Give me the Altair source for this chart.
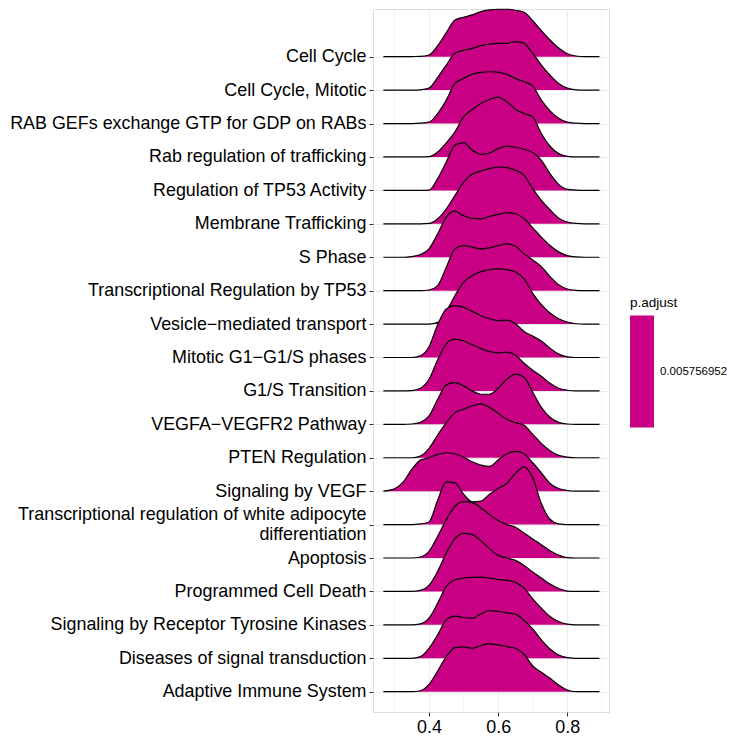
import json
import altair as alt
import pandas as pd

# Evaluation grid shared by every ridge (x = GeneRatio-like score)
X_GRID = [0.268, 0.300, 0.325, 0.350, 0.375, 0.400, 0.425, 0.450, 0.475, 0.500,
          0.525, 0.550, 0.575, 0.600, 0.625, 0.650, 0.675, 0.700, 0.725, 0.750,
          0.775, 0.800, 0.825, 0.850, 0.875, 0.893]

# Ridge heights (in units of the row spacing) at each X_GRID point
CELL_CYCLE = [0, 0, 0, 0.005, 0.01, 0.05, 0.33, 0.72, 1.10, 1.18, 1.25, 1.35, 1.40,
              1.42, 1.42, 1.39, 1.33, 1.08, 0.78, 0.50, 0.26, 0.09, 0.02, 0, 0, 0]
CELL_CYCLE_MITOTIC = [0, 0, 0, 0, 0.01, 0.06, 0.38, 0.75, 1.10, 1.19, 1.25, 1.33, 1.38,
                      1.40, 1.40, 1.45, 1.40, 1.10, 0.75, 0.45, 0.20, 0.06, 0.01, 0, 0, 0]
RAB_GEFS = [0, 0, 0, 0, 0.01, 0.04, 0.30, 0.70, 1.20, 1.35, 1.48, 1.53, 1.55,
            1.54, 1.47, 1.35, 1.25, 1.12, 0.70, 0.38, 0.16, 0.04, 0.01, 0, 0, 0]
RAB_REGULATION = [0, 0, 0, 0, 0, 0.01, 0.15, 0.42, 0.75, 1.20, 1.42, 1.60, 1.72,
                  1.79, 1.65, 1.43, 1.30, 1.20, 0.70, 0.32, 0.10, 0.02, 0, 0, 0, 0]
TP53_ACTIVITY = [0, 0, 0, 0, 0, 0.01, 0.35, 0.85, 1.35, 1.43, 1.20, 1.08, 1.12,
                 1.25, 1.32, 1.29, 1.23, 1.13, 0.90, 0.50, 0.18, 0.03, 0.01, 0, 0, 0]
MEMBRANE_TRAFFICKING = [0, 0, 0, 0, 0, 0.01, 0.15, 0.45, 0.85, 1.25, 1.48, 1.58, 1.65,
                        1.70, 1.68, 1.60, 1.45, 1.05, 0.70, 0.42, 0.17, 0.05, 0.01, 0, 0, 0]
S_PHASE = [0, 0, 0, 0.02, 0.08, 0.25, 0.70, 1.20, 1.38, 1.24, 1.16, 1.15, 1.22,
           1.28, 1.33, 1.30, 1.15, 0.88, 0.60, 0.35, 0.16, 0.05, 0.01, 0, 0, 0]
TP53_TRANSCRIPTION = [0, 0, 0, 0, 0, 0.02, 0.15, 0.70, 1.25, 1.35, 1.30, 1.25, 1.28,
                      1.35, 1.40, 1.33, 1.10, 0.92, 0.72, 0.42, 0.18, 0.05, 0.01, 0, 0, 0]
VESICLE_TRANSPORT = [0, 0, 0, 0, 0, 0, 0.05, 0.38, 0.85, 1.25, 1.45, 1.57, 1.63,
                     1.65, 1.63, 1.56, 1.35, 0.92, 0.58, 0.33, 0.16, 0.06, 0.01, 0, 0, 0]
MITOTIC_G1 = [0, 0, 0, 0, 0.05, 0.32, 0.98, 1.45, 1.55, 1.50, 1.38, 1.25, 1.16,
              1.10, 1.12, 1.01, 0.78, 0.64, 0.49, 0.28, 0.10, 0.02, 0, 0, 0, 0]
G1S_TRANSITION = [0, 0, 0, 0.01, 0.08, 0.35, 0.93, 1.41, 1.55, 1.50, 1.38, 1.27, 1.18,
                  1.14, 1.16, 1.07, 0.83, 0.62, 0.44, 0.23, 0.08, 0.02, 0, 0, 0, 0]
VEGFA_VEGFR2 = [0, 0, 0, 0.01, 0.06, 0.25, 0.75, 1.18, 1.25, 1.15, 1.00, 0.90, 0.90,
                1.08, 1.35, 1.50, 1.41, 0.96, 0.51, 0.21, 0.06, 0.01, 0, 0, 0, 0]
PTEN_REGULATION = [0, 0, 0, 0, 0.05, 0.28, 0.68, 1.05, 1.35, 1.45, 1.55, 1.61, 1.50,
                   1.33, 1.15, 1.05, 0.97, 0.70, 0.43, 0.21, 0.07, 0.02, 0, 0, 0, 0]
SIGNALING_VEGF = [0, 0.07, 0.27, 0.65, 0.93, 1.00, 1.10, 1.15, 1.12, 1.02, 0.88, 0.78, 0.74,
                  0.93, 1.12, 1.19, 1.12, 0.85, 0.55, 0.23, 0.08, 0.02, 0, 0, 0, 0]
WHITE_ADIPOCYTE = [0, 0, 0, 0, 0.02, 0.08, 0.73, 1.28, 1.25, 0.91, 0.68, 0.70, 0.91,
                   1.08, 1.23, 1.53, 1.73, 1.40, 0.63, 0.16, 0.02, 0, 0, 0, 0, 0]
APOPTOSIS = [0, 0, 0, 0, 0.03, 0.20, 0.65, 1.15, 1.55, 1.69, 1.66, 1.50, 1.30,
             1.12, 1.00, 0.92, 0.75, 0.57, 0.40, 0.22, 0.09, 0.01, 0, 0, 0, 0]
PROGRAMMED_CELL_DEATH = [0, 0, 0, 0, 0.03, 0.18, 0.60, 1.15, 1.58, 1.74, 1.70, 1.52, 1.28,
                         1.08, 1.00, 0.93, 0.78, 0.58, 0.40, 0.22, 0.09, 0.01, 0, 0, 0, 0]
RTK_SIGNALING = [0, 0, 0, 0, 0.03, 0.20, 0.65, 1.15, 1.35, 1.40, 1.42, 1.43, 1.40,
                 1.36, 1.33, 1.27, 1.10, 0.78, 0.50, 0.25, 0.10, 0.02, 0, 0, 0, 0]
SIGNAL_TRANSDUCTION_DISEASES = [0, 0, 0, 0, 0.05, 0.30, 0.70, 1.15, 1.26, 1.22, 1.20, 1.33, 1.43,
                                1.40, 1.36, 1.32, 1.13, 0.88, 0.55, 0.28, 0.10, 0.02, 0, 0, 0, 0]
ADAPTIVE_IMMUNE = [0, 0, 0, 0, 0.03, 0.22, 0.62, 1.05, 1.32, 1.34, 1.30, 1.38, 1.43,
                   1.40, 1.35, 1.30, 1.12, 0.77, 0.58, 0.40, 0.20, 0.05, 0, 0, 0, 0]

# Pathways from top row to bottom row; "\n" breaks a long label onto two lines
PATHWAYS = [
    ("Cell Cycle", CELL_CYCLE),
    ("Cell Cycle, Mitotic", CELL_CYCLE_MITOTIC),
    ("RAB GEFs exchange GTP for GDP on RABs", RAB_GEFS),
    ("Rab regulation of trafficking", RAB_REGULATION),
    ("Regulation of TP53 Activity", TP53_ACTIVITY),
    ("Membrane Trafficking", MEMBRANE_TRAFFICKING),
    ("S Phase", S_PHASE),
    ("Transcriptional Regulation by TP53", TP53_TRANSCRIPTION),
    ("Vesicle\u2212mediated transport", VESICLE_TRANSPORT),
    ("Mitotic G1\u2212G1/S phases", MITOTIC_G1),
    ("G1/S Transition", G1S_TRANSITION),
    ("VEGFA\u2212VEGFR2 Pathway", VEGFA_VEGFR2),
    ("PTEN Regulation", PTEN_REGULATION),
    ("Signaling by VEGF", SIGNALING_VEGF),
    ("Transcriptional regulation of white adipocyte\ndifferentiation", WHITE_ADIPOCYTE),
    ("Apoptosis", APOPTOSIS),
    ("Programmed Cell Death", PROGRAMMED_CELL_DEATH),
    ("Signaling by Receptor Tyrosine Kinases", RTK_SIGNALING),
    ("Diseases of signal transduction", SIGNAL_TRANSDUCTION_DISEASES),
    ("Adaptive Immune System", ADAPTIVE_IMMUNE),
]

P_ADJUST = 0.005756952
MINOR_X = [0.3, 0.5, 0.7, 0.9]
MAJOR_X = [0.4, 0.6, 0.8]

FILL = "#C90084"
GRID = "#EBEBEB"
FONT = "Liberation Sans"
LABEL_SIZE = 17.9
LINE_HEIGHT = 20

n_rows = len(PATHWAYS)
row_names = [name for name, _ in PATHWAYS][::-1]  # row index 0 = bottom row
label_expr = "split(" + json.dumps(row_names) + "[round(datum.value)], '\\n')"
# Two-line labels are shifted up by half a line so the block centres on its tick
two_line_rows = [i for i, name in enumerate(row_names) if "\n" in name]
two_line_test = " || ".join(f"round(datum.value) == {i}" for i in two_line_rows) or "false"

x_scale = alt.Scale(domain=[0.238, 0.9206], nice=False, zero=False)
y_scale = alt.Scale(domain=[-0.607, n_rows - 1 + 1.427], nice=False, zero=False)

x_axis = alt.Axis(values=MAJOR_X, format=".1f", title=None, domain=False,
                  tickSize=4, tickColor="#333333", labelPadding=2,
                  labelFontSize=LABEL_SIZE, labelColor="black", labelFont=FONT,
                  grid=True, gridColor=GRID, gridWidth=1.0)
y_axis = alt.Axis(values=list(range(n_rows)), labelExpr=label_expr, title=None,
                  domain=False, tickSize=4, tickColor="#333333", labelPadding=3,
                  labelFontSize=LABEL_SIZE, labelColor="black", labelFont=FONT,
                  labelLineHeight=LINE_HEIGHT, labelLimit=500,
                  labelOffset={"condition": {"test": two_line_test,
                                             "value": -LINE_HEIGHT / 2},
                               "value": 0},
                  grid=True, gridColor=GRID, gridWidth=1.0,
                  labelBound=False, labelOverlap=False)

color_scale = alt.Scale(domain=[P_ADJUST - 0.00005, P_ADJUST + 0.00005],
                        range=[FILL, FILL])
color_legend = alt.Legend(title="p.adjust", orient="none", legendX=257, legendY=287,
                          direction="vertical", gradientLength=112,
                          gradientThickness=24, gradientStrokeWidth=0,
                          values=[P_ADJUST], format=".9f", padding=0,
                          titleFont=FONT, titleFontSize=13.5, titleFontWeight="normal",
                          titleColor="black", titlePadding=6,
                          labelFont=FONT, labelFontSize=11.5, labelColor="black",
                          labelOffset=6, labelOverlap=False)

# Minor vertical grid lines
minor_grid = alt.Chart(pd.DataFrame({"x": MINOR_X})).mark_rule(
    color=GRID, strokeWidth=0.6
).encode(x=alt.X("x:Q", scale=x_scale, axis=x_axis))

layers = [minor_grid]
for i, (name, heights) in enumerate(PATHWAYS):
    base = n_rows - 1 - i
    df = pd.DataFrame({
        "x": X_GRID,
        "top": [base + h for h in heights],
        "base": [base] * len(X_GRID),
        "pathway": name,
        "p_adjust": P_ADJUST,
    })
    ridge = alt.Chart(df)
    fill = ridge.mark_area(interpolate="monotone", opacity=1).encode(
        x=alt.X("x:Q", scale=x_scale, axis=x_axis),
        y=alt.Y("top:Q", scale=y_scale, axis=y_axis),
        y2="base:Q",
        color=alt.Color("p_adjust:Q", scale=color_scale, legend=color_legend),
    )
    outline = ridge.mark_line(interpolate="monotone", color="black", strokeWidth=1.2).encode(
        x=alt.X("x:Q", scale=x_scale, axis=x_axis),
        y=alt.Y("top:Q", scale=y_scale, axis=y_axis),
    )
    layers += [fill, outline]

chart = alt.layer(*layers).properties(
    width=236,
    height=703,
    autosize=alt.AutoSizeParams(type="none"),
    padding={"left": 373, "top": 9, "right": 121, "bottom": 25},
    background="white",
).configure_view(
    stroke="#333333", strokeWidth=1.3
).configure(font=FONT)

chart.save("out.html", embed_options={"renderer": "svg", "actions": False})
